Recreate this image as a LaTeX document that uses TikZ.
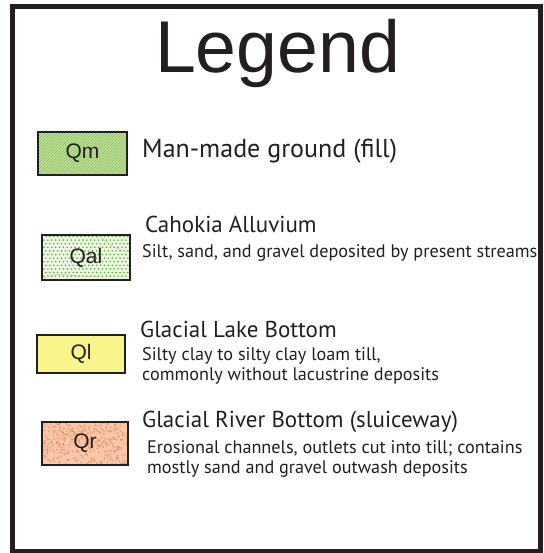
\documentclass[tikz,border=0pt]{standalone}
\usepackage{fontspec}
\newfontfamily\hv{Liberation Sans}
\newfontfamily\my{PT Sans}
\definecolor{ink}{HTML}{231F20}
\definecolor{qmbg}{HTML}{C4E4A0}
\definecolor{qmln}{HTML}{96C468}
\definecolor{qalbg}{HTML}{EEF6E4}
\definecolor{qaldot}{HTML}{5DAF3C}
\definecolor{qlbg}{HTML}{F8F68A}
\definecolor{qrbg}{HTML}{F8C6A8}
\definecolor{qrdot}{HTML}{EC7F4E}
\tikzset{
  legbox/.style={draw=ink, line width=2.5pt, inner sep=0pt, text=ink,
    font=\hv\fontsize{21}{21}\selectfont},
  head/.style={anchor=base west, inner sep=0pt, text=ink, font=\my\fontsize{23}{23}\selectfont},
  sub/.style={anchor=base west, inner sep=0pt, text=ink,
    font=\my\fontsize{18.2}{20}\selectfont},
}
\begin{document}
\begin{tikzpicture}[x=1pt,y=-1pt]
\useasboundingbox (0,0) rectangle (543,553);
\fill[white] (0,0) rectangle (543,553);
% title
\node[anchor=base, inner sep=0pt, text=ink, font=\hv\fontsize{73.4}{73.4}\selectfont] (title) at (277.5,73) {Legend};
% Qm pattern
\begin{scope}
\clip (38,132) rectangle (127,175);
\fill[qmbg] (38,132) rectangle (127,175);
\foreach \k in {0,3,...,150} \draw[qmln, line width=0.8pt] ({\k-12},175) -- ++(50,-50);
\end{scope}
\node[legbox, minimum width=89pt, minimum height=43pt] (qm) at (82.5,153.5) {Qm};
% Qal pattern
\begin{scope}
\clip (42,235) rectangle (130,280);
\fill[qalbg] (42,235) rectangle (130,280);
\foreach \j in {0,...,12} \foreach \i in {0,...,23}
  \fill[qaldot] ({42+\i*3.9+mod(\j,2)*1.95},{236.5+\j*3.6}) circle (0.9pt);
\draw[brown!60, line width=0.5pt] (44,278) .. controls (60,270) and (80,279) .. (100,276);
\draw[brown!50, line width=0.5pt] (100,236) .. controls (108,245) and (118,250) .. (130,252);
\end{scope}
\node[legbox, minimum width=88pt, minimum height=45pt] (qal) at (86,257.5) {Qal};
% Ql
\node[legbox, fill=qlbg, minimum width=88pt, minimum height=38pt] (ql) at (81,354) {Ql};
% Qr pattern
\begin{scope}
\clip (42,422) rectangle (128,465);
\fill[qrbg] (42,422) rectangle (128,465);
\pgfmathsetseed{11}
\foreach \n in {1,...,420}
  \fill[qrdot, opacity=0.75] ({42+86*rnd},{422+43*rnd}) circle (0.8pt);
\end{scope}
\node[legbox, minimum width=86pt, minimum height=43pt] (qr) at (85,443.5) {Qr};
% texts
\node[head, font=\my\fontsize{26}{26}\selectfont] (tqm) at (142,158) {Man-made ground (fill)};
\node[head] (tqal) at (145,232) {Cahokia Alluvium};
\node[sub] (dqal) at (142,257) {Silt, sand, and gravel deposited by present streams};
\node[head] (tql) at (140,337) {Glacial Lake Bottom};
\node[sub] (dql1) at (142,360) {Silty clay to silty clay loam till,};
\node[sub] (dql2) at (142,380) {commonly without lacustrine deposits};
\node[head] (tqr) at (142,427) {Glacial River Bottom (sluiceway)};
\node[sub] (dqr1) at (147,453) {Erosional channels, outlets cut into till; contains};
\node[sub] (dqr2) at (147,473) {mostly sand and gravel outwash deposits};
% frame
\draw[ink, line width=5pt] (12.5,6.5) rectangle (540,551.5);
\end{tikzpicture}
\end{document}
